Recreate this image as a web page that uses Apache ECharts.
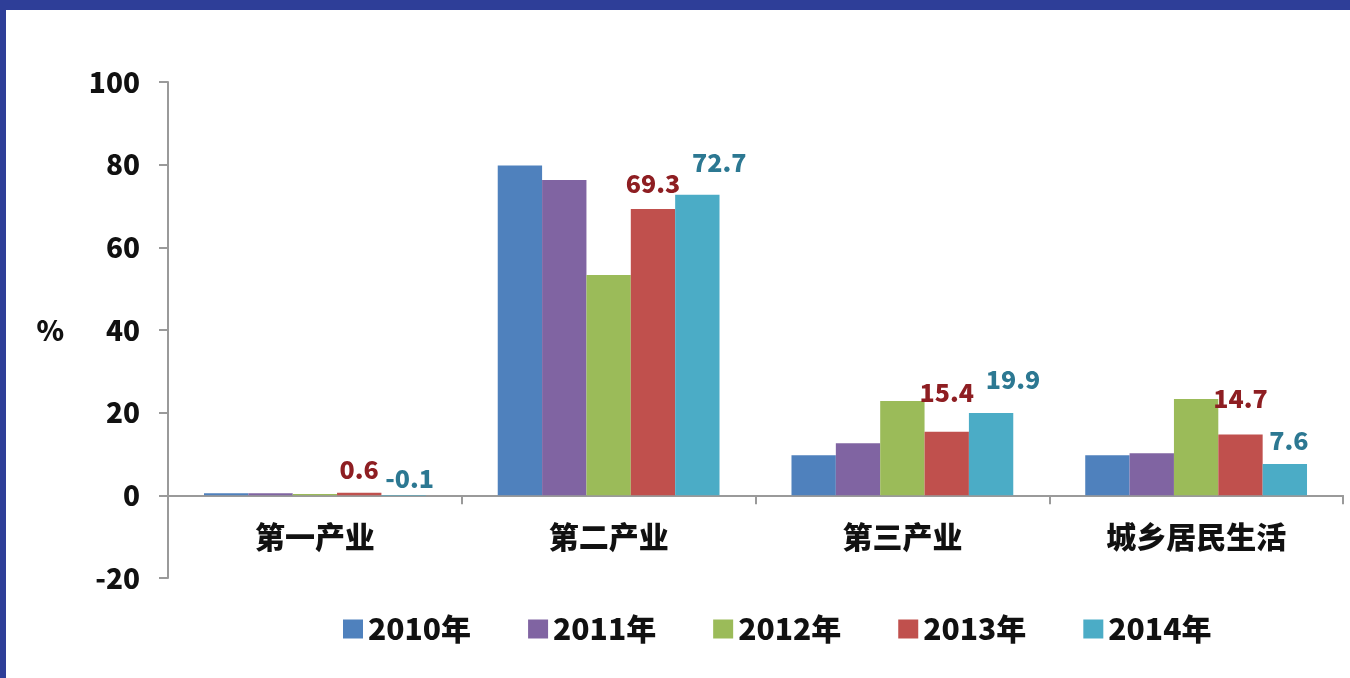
<!DOCTYPE html>
<html>
<head>
<meta charset="utf-8">
<script src="https://cdn.jsdelivr.net/npm/echarts@6/dist/echarts.min.js"></script>
<style>
  html, body { margin: 0; padding: 0; }
  body { width: 1350px; height: 678px; background: #2E3E98; position: relative; overflow: hidden; }
  #chart { position: absolute; left: 6px; top: 10px; width: 1344px; height: 668px; background: #ffffff; }
</style>
</head>
<body>
<div id="chart"></div>
<script>
// Contribution to growth by sector, %
const categories = ['第一产业', '第二产业', '第三产业', '城乡居民生活'];
const years = ['2010年', '2011年', '2012年', '2013年', '2014年'];
const v2010 = [0.5, 79.8, 9.7, 9.7];
const v2011 = [0.5, 76.3, 12.6, 10.2];
const v2012 = [0.3, 53.3, 22.8, 23.3];
const v2013 = [0.6, 69.3, 15.4, 14.7];
const v2014 = [-0.1, 72.7, 19.9, 7.6];
const yTicks = { min: -20, max: 100, step: 20 };

const colors = ['#4F81BD', '#8064A2', '#9BBB59', '#C0504D', '#4BACC6'];
const labelColors = { '2013年': '#8E1E22', '2014年': '#2C7892' };
// hand-placed nudges for the value labels, per category
const labelNudge = {
  '2013年': [[0, -6], [0, -8], [0, -22], [0, -19]],
  '2014年': [[6, 1], [22, -15], [22, -16], [4, -6]]
};

const FONT = '"Noto Sans CJK SC", "Noto Sans", sans-serif';
const HEAVY = 900;
const seriesValues = [v2010, v2011, v2012, v2013, v2014];

const series = years.map((name, i) => {
  const labelled = labelColors[name] !== undefined;
  return {
    name,
    type: 'bar',
    barGap: '0%',
    barCategoryGap: '24.5%',
    itemStyle: { color: colors[i] },
    data: seriesValues[i].map((v, j) => labelled ? {
      value: v,
      label: {
        show: true,
        position: 'top',
        offset: labelNudge[name][j],
        color: labelColors[name],
        fontFamily: FONT,
        fontWeight: HEAVY,
        fontSize: 25
      }
    } : v)
  };
});

const chart = echarts.init(document.getElementById('chart'), null, { renderer: 'canvas' });
chart.setOption({
  animation: false,
  backgroundColor: '#ffffff',
  grid: { left: 162, top: 72, right: 7, bottom: 100, containLabel: false },
  legend: {
    data: years,
    left: 332,
    top: 599,
    itemWidth: 20,
    itemHeight: 19,
    itemGap: 57,
    icon: 'rect',
    textStyle: { fontFamily: FONT, fontWeight: HEAVY, fontSize: 30, color: '#111111', padding: [0, 0, 0, 0] }
  },
  xAxis: {
    type: 'category',
    data: categories,
    axisLine: { onZero: true, lineStyle: { color: '#9A9A9A', width: 2 } },
    axisTick: { show: true, alignWithLabel: false, length: 9, lineStyle: { color: '#9A9A9A', width: 2 } },
    // the label row sits just under the zero line
    axisLabel: { margin: -56, fontFamily: FONT, fontWeight: HEAVY, fontSize: 30, color: '#111111' }
  },
  yAxis: {
    type: 'value',
    min: yTicks.min,
    max: yTicks.max,
    interval: yTicks.step,
    name: '%',
    nameLocation: 'middle',
    nameRotate: 0,
    nameGap: 104,
    nameTextStyle: { fontFamily: FONT, fontWeight: HEAVY, fontSize: 28, color: '#111111' },
    splitLine: { show: false },
    axisLine: { show: true, lineStyle: { color: '#9A9A9A', width: 2 } },
    axisTick: { show: true, length: 9, lineStyle: { color: '#9A9A9A', width: 2 } },
    axisLabel: { margin: 28, fontFamily: FONT, fontWeight: HEAVY, fontSize: 28, color: '#111111' }
  },
  series
});
</script>
</body>
</html>
